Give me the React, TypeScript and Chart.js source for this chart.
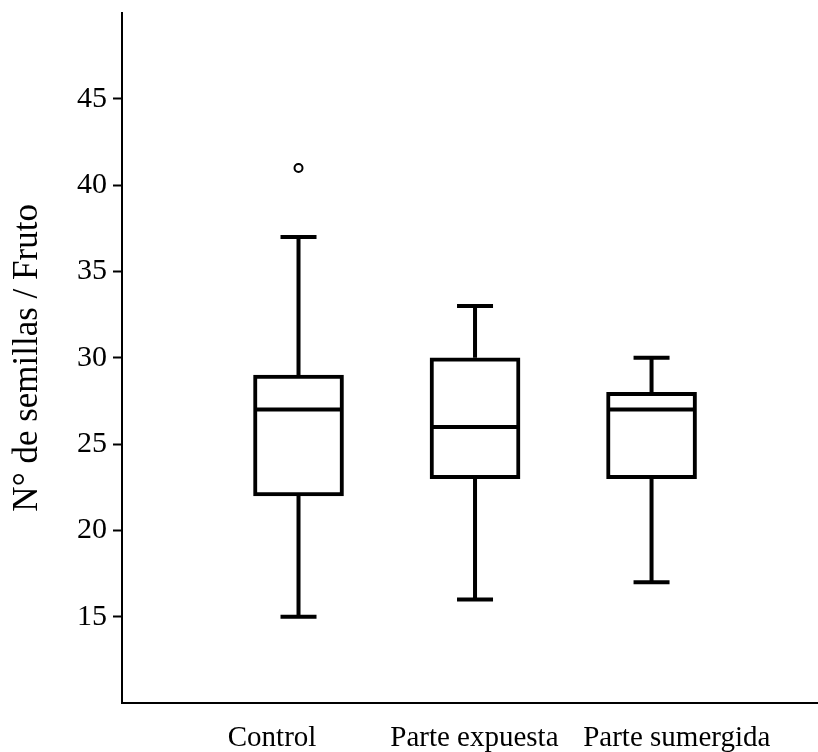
import React, { useEffect, useRef } from "react";
import { Chart, registerables } from "chart.js";

Chart.register(...registerables);

const categories = ["Control", "Parte expuesta", "Parte sumergida"];
const whiskerLow = [15, 16, 17];
const q1 = [22, 23, 23];
const median = [27, 26, 27];
const q3 = [29, 30, 28];
const whiskerHigh = [37, 33, 30];
const outliers: number[][] = [[41], [], []];
const yTicks = [15, 20, 25, 30, 35, 40, 45];

const FONT = "'Liberation Serif', 'Times New Roman', serif";

const boxPlugin = {
  id: "boxWhiskers",
  afterDatasetsDraw(chart: any) {
    const { ctx, scales } = chart;
    const x = scales.x;
    const y = scales.y;
    ctx.save();
    ctx.strokeStyle = "#000";
    ctx.lineWidth = 4;
    ctx.lineCap = "butt";
    categories.forEach((_, i) => {
      const cx = x.getPixelForValue(i + 1);
      const capHalf = 18;
      const boxHalf = 44;
      ctx.beginPath();
      ctx.moveTo(cx, y.getPixelForValue(q3[i]));
      ctx.lineTo(cx, y.getPixelForValue(whiskerHigh[i]));
      ctx.moveTo(cx - capHalf, y.getPixelForValue(whiskerHigh[i]));
      ctx.lineTo(cx + capHalf, y.getPixelForValue(whiskerHigh[i]));
      ctx.moveTo(cx, y.getPixelForValue(q1[i]));
      ctx.lineTo(cx, y.getPixelForValue(whiskerLow[i]));
      ctx.moveTo(cx - capHalf, y.getPixelForValue(whiskerLow[i]));
      ctx.lineTo(cx + capHalf, y.getPixelForValue(whiskerLow[i]));
      ctx.moveTo(cx - boxHalf, y.getPixelForValue(median[i]));
      ctx.lineTo(cx + boxHalf, y.getPixelForValue(median[i]));
      ctx.stroke();
    });
    ctx.restore();
  },
};

export default function App() {
  const ref = useRef<HTMLCanvasElement>(null);

  useEffect(() => {
    if (!ref.current) return;
    const outlierPoints: { x: number; y: number }[] = [];
    outliers.forEach((arr, i) => arr.forEach((v) => outlierPoints.push({ x: i + 1, y: v })));

    const chart = new Chart(ref.current, {
      type: "bar",
      data: {
        datasets: [
          {
            type: "bar",
            xAxisID: "x",
            data: categories.map((_, i) => ({ x: i + 1, y: [q1[i], q3[i]] })) as any,
            backgroundColor: "#fff",
            borderColor: "#000",
            borderWidth: 4,
            borderSkipped: false,
            barThickness: 90,
          } as any,
          {
            type: "scatter",
            xAxisID: "x",
            data: outlierPoints,
            pointRadius: 4,
            pointBorderWidth: 2,
            pointBackgroundColor: "#fff",
            pointBorderColor: "#000",
          } as any,
        ],
      },
      options: {
        responsive: false,
        animation: false,
        layout: { autoPadding: false, padding: { top: 12.7, right: 0, left: 0, bottom: 0 } },
        plugins: {
          legend: { display: false },
          tooltip: { enabled: false },
        },
        scales: {
          x: {
            type: "linear",
            position: "bottom",
            offset: false,
            min: 0,
            max: 3.943,
            afterBuildTicks: (s: any) => {
              s.ticks = categories.map((_, i) => ({ value: i + 1 }));
            },
            afterFit: (s: any) => {
              s.height = 0;
              s.paddingLeft = 0;
              s.paddingRight = 0;
            },
            grid: { display: false, drawTicks: false, offset: false },
            border: { display: true, color: "#000", width: 2 },
            ticks: { display: false },
          },
          xLabels: {
            type: "linear",
            position: "bottom",
            offset: false,
            min: 0.2585,
            max: 3.698,
            afterBuildTicks: (s: any) => {
              s.ticks = categories.map((_, i) => ({ value: i + 1 }));
            },
            afterFit: (s: any) => {
              s.height = 49;
              s.paddingLeft = 0;
              s.paddingRight = 0;
            },
            grid: { display: false, drawTicks: false, offset: false },
            border: { display: false },
            ticks: {
              color: "#000",
              font: { family: FONT, size: 29 },
              padding: 18,
              maxRotation: 0,
              autoSkip: false,
              callback: (v: any) => categories[Math.round(Number(v)) - 1] ?? "",
            },
          },
          y: {
            type: "linear",
            min: 10,
            max: 50,
            afterBuildTicks: (s: any) => {
              s.ticks = yTicks.map((v) => ({ value: v }));
            },
            afterFit: (s: any) => {
              s.width = 122;
              s.paddingTop = 0;
              s.paddingBottom = 0;
              s.paddingLeft = 0;
              s.paddingRight = 0;
            },
            grid: {
              drawOnChartArea: false,
              drawTicks: true,
              tickLength: 9,
              tickColor: "#000",
              tickWidth: 2,
            },
            border: { display: true, color: "#000", width: 2 },
            ticks: {
              color: "#000",
              font: { family: FONT, size: 30 },
              padding: 6,
            },
            title: {
              display: true,
              text: "N° de semillas / Fruto",
              color: "#000",
              font: { family: FONT, size: 35 },
              padding: { top: 7, bottom: 0 },
            },
          },
        },
      },
      plugins: [boxPlugin],
    });
    return () => chart.destroy();
  }, []);

  return (
    <div style={{ position: "absolute", left: 0, top: 0, width: 818, height: 752, background: "#fff" }}>
      <canvas ref={ref} width={818} height={752} />
    </div>
  );
}
